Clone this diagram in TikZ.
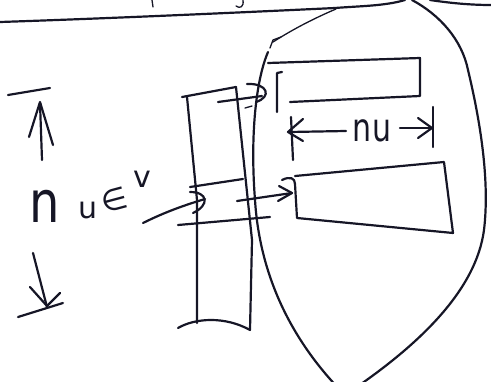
\documentclass[tikz,border=0pt]{standalone}
\usepackage{fontspec}
\newfontfamily\handfont{DejaVu Sans}
\begin{document}
\begin{tikzpicture}[x=1pt,y=-1pt,
  pen/.style={line width=2.2pt,line cap=round,line join=round,draw=ink},
  thinpen/.style={line width=1.3pt,line cap=round,line join=round,draw=ink},
  hand/.style={text=ink,inner sep=0pt,font=\handfont\fontsize{30}{30}\selectfont}]
\definecolor{ink}{RGB}{22,22,38}
\useasboundingbox (0,0) rectangle (491,381);
\clip (0,0) rectangle (491,381);
% top page line and cut-off marks
\draw[pen] (0,22) .. controls (120,18) and (250,12) .. (335,8) .. controls (360,6) and (385,6) .. (405,0);
\draw[pen] (430,0) .. controls (450,3) and (470,5) .. (491,5);
\draw[thinpen] (152,0) -- (153,7);
\draw[thinpen] (243,0) .. controls (244,7) and (240,9) .. (236,6);
% shield outline
\draw[thinpen] (270,48) -- (273,40) -- (281,37);
\draw[thinpen] (273,42) .. controls (295,28) and (315,18) .. (336,9);
\draw[pen] (412,0) .. controls (440,15) and (462,40) .. (468,70)
  .. controls (480,120) and (490,180) .. (484,230)
  .. controls (476,290) and (420,345) .. (345,395);
\draw[pen] (268,52) .. controls (256,80) and (250,135) .. (255,200)
  .. controls (260,280) and (295,345) .. (345,395);
% upper rectangle
\coordinate (ua) at (268,63);
\coordinate (ub) at (420,58);
\coordinate (uc) at (420,96);
\coordinate (ud) at (290,102);
\draw[pen] (ua) -- (ub) -- (uc) -- (ud);
\draw[pen] (282,72) -- (277,73) -- (277,112);
% nu dimension
\draw[pen] (291,117) -- (293,160);
\draw[pen] (433,107) -- (433,147);
\draw[pen] (346,131) -- (289,132);
\draw[pen] (303,119) -- (288,132) -- (303,141);
\draw[pen] (400,128) -- (431,128);
\draw[pen] (418,118) -- (432,128) -- (418,138);
\node[hand,yscale=1.3] (nu) at (372,131) {nu};
% lower rectangle
\coordinate (la) at (295,176);
\coordinate (lb) at (444,162);
\coordinate (lc) at (453,233);
\coordinate (ld) at (297,218);
\draw[pen] (282,180) .. controls (290,176) and (295,178) .. (295,184) -- (ld) -- (lc) -- (lb) -- (la);
% tall rectangle
\draw[pen] (182,97) -- (236,87);
\draw[pen] (187,97) -- (197,200) -- (197,323);
\draw[pen] (236,87) -- (252,240) -- (250,330);
\draw[pen] (178,328) .. controls (195,318) and (225,316) .. (250,330);
\draw[pen] (190,187) -- (243,179);
\draw[pen] (178,225) -- (270,217);
\draw[thinpen] (245,108) -- (252,106);
% upper arrow into upper rectangle
\coordinate (t1) at (218,102);
\coordinate (t2) at (262,96);
\draw[pen] (t1) -- (t2);
\draw[pen] (247,84) .. controls (268,83) and (272,97) .. (256,102);
% lower arrow into lower rectangle
\coordinate (m1) at (237,201);
\coordinate (m2) at (292,193);
\draw[pen] (m1) -- (m2);
\draw[pen] (279,186) -- (292,193) -- (278,201);
% incoming arrow from left
\coordinate (i1) at (143,223);
\coordinate (i2) at (205,199);
\draw[pen] (i1) .. controls (165,212) and (185,205) .. (i2);
\draw[pen] (190,192) .. controls (208,192) and (210,205) .. (193,213);
% left dimension
\draw[pen] (8,95) -- (50,88);
\draw[pen] (42,160) -- (40,103);
\draw[pen] (29,137) -- (40,102) -- (53,145);
\draw[pen] (33,253) -- (47,307);
\draw[pen] (30,287) -- (47,306) -- (60,293);
\draw[pen] (18,317) -- (63,303);
\node[hand,font=\handfont\fontsize{48}{48}\selectfont,yscale=1.2] (ln) at (45,206) {n};
\node[hand] (lu) at (88,210) {u};
\node[hand,rotate=15] (le) at (114,200) {∈};
\node[hand] (lv) at (142,179) {v};
\end{tikzpicture}
\end{document}
